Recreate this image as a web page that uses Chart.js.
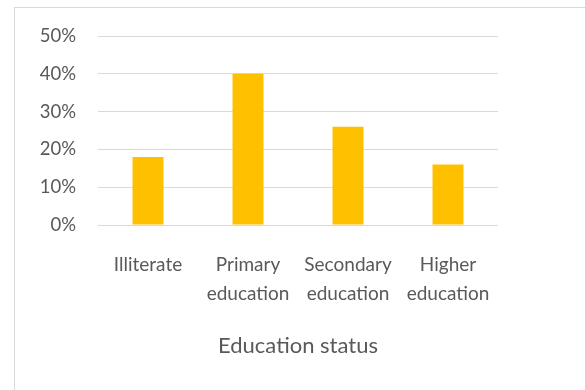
<!DOCTYPE html>
<html lang="en">
  <head>
    <style>
      body { margin: 0; background: #fff; }
      #frame { position: absolute; left: 14px; top: 7px; width: 600px; height: 400px; border: 1px solid #d9d9d9; box-sizing: border-box; }
      #wrap { position: absolute; left: 0; top: 0; width: 585px; height: 390px; }
    </style>
  </head>
  <body>
    <div id="frame"></div>
    <div id="wrap">
      <canvas id="myChart" width="585" height="390"></canvas>
    </div>
    <script src="https://cdn.jsdelivr.net/npm/chart.js"></script>
    <script>
      const categories = [['Illiterate'], ['Primary', 'education'], ['Secondary', 'education'], ['Higher', 'education']];
      const shares = [0.18, 0.40, 0.26, 0.16];
      const yTicks = [0, 0.1, 0.2, 0.3, 0.4, 0.5];
      const axisTitle = 'Education status';

      const fontFamily = 'Lato, "Open Sans", sans-serif';
      const textColor = '#595959';

      const data = {
        labels: categories,
        datasets: [{
          data: shares,
          backgroundColor: '#FFC000',
          borderWidth: 0,
          categoryPercentage: 1,
          barPercentage: 0.31
        }]
      };

      const config = {
        type: 'bar',
        data: data,
        options: {
          responsive: false,
          animation: false,
          layout: { padding: { left: 0, right: 87, top: 36, bottom: 30 } },
          plugins: { legend: { display: false }, tooltip: { enabled: false } },
          scales: {
            x: {
              grid: { display: false, drawTicks: false },
              border: { display: false },
              ticks: { color: textColor, padding: 25, maxRotation: 0, autoSkip: false,
                font: { family: fontFamily, size: 19, lineHeight: 1.53 } },
              title: { display: true, text: axisTitle, color: textColor, padding: { top: 0, bottom: 1 },
                font: { family: fontFamily, size: 22 } },
              afterFit: (scale) => { scale.height = 390 - 30 - 225; }
            },
            y: {
              min: 0,
              max: 0.5,
              afterBuildTicks: (scale) => { scale.ticks = yTicks.map(v => ({ value: v })); },
              grid: { color: '#d9d9d9', lineWidth: 1, drawTicks: false },
              border: { display: false },
              ticks: { color: textColor, padding: 22,
                font: { family: fontFamily, size: 18.5 },
                callback: (v) => Math.round(v * 100) + '%' },
              afterFit: (scale) => { scale.width = 98; }
            }
          }
        }
      };

      const myChart = new Chart(document.getElementById('myChart'), config);
    </script>
  </body>
</html>
